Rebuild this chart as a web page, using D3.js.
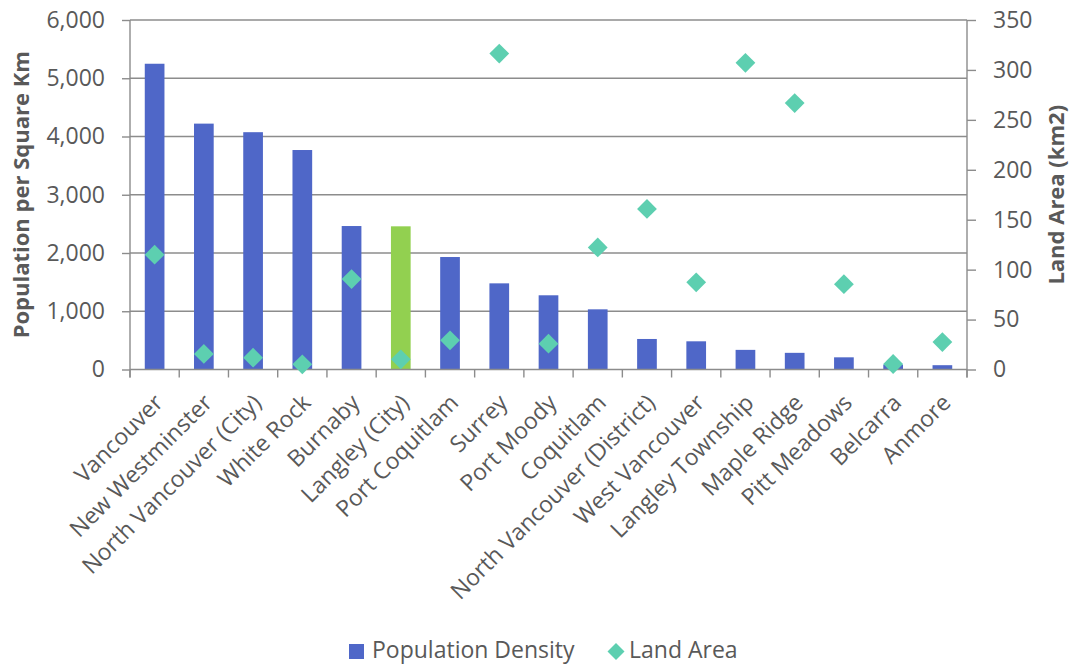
<!DOCTYPE html>
<html>
<head>
<meta charset="utf-8">
<script src="https://cdn.jsdelivr.net/npm/d3@7"></script>
<style>
  html, body { margin: 0; padding: 0; background: #fff; }
  svg { display: block; font-family: "Open Sans", sans-serif; }
</style>
</head>
<body>
<svg id="chart" width="1072" height="664"></svg>
<script>
// Metro Vancouver municipalities: population density and land area
const municipalities = [
  "Vancouver", "New Westminster", "North Vancouver (City)", "White Rock", "Burnaby",
  "Langley (City)", "Port Coquitlam", "Surrey", "Port Moody", "Coquitlam",
  "North Vancouver (District)", "West Vancouver", "Langley Township", "Maple Ridge",
  "Pitt Meadows", "Belcarra", "Anmore"
];
const densityValues = [5249, 4221, 4074, 3768, 2463, 2458, 1931, 1479, 1274, 1033,
  524, 484, 337, 286, 209, 85, 74];
const landAreaValues = [115.0, 15.6, 11.8, 5.2, 90.6, 10.2, 29.2, 316.4, 25.9, 122.2,
  160.8, 87.3, 307.1, 266.8, 85.4, 5.5, 27.5];
const highlighted = ["Langley (City)"];
const densityTicks = [0, 1000, 2000, 3000, 4000, 5000, 6000];
const areaTicks = [0, 50, 100, 150, 200, 250, 300, 350];

const svg = d3.select("#chart");
const plotLeft = 130, plotRight = 967, plotTop = 20, plotBottom = 369.5;
const textColor = "#595959", gridColor = "#8c8c8c";
const barColor = "#4f67c8", highlightColor = "#92d050", diamondColor = "#5dcfb0";
const labelSize = "23px";

const x = d3.scaleBand().domain(municipalities).range([plotLeft, plotRight])
  .paddingInner(0.6).paddingOuter(0.3);
const yLeft = d3.scaleLinear().domain([0, 6000]).range([plotBottom, plotTop]);
const yRight = d3.scaleLinear().domain([0, 350]).range([plotBottom, plotTop]);

// horizontal gridlines
svg.append("g").selectAll("line").data(densityTicks.slice(1)).join("line")
  .attr("x1", plotLeft).attr("x2", plotRight)
  .attr("y1", d => yLeft(d)).attr("y2", d => yLeft(d))
  .attr("stroke", gridColor).attr("stroke-width", 1.4);

// bars
svg.append("g").selectAll("rect").data(municipalities).join("rect")
  .attr("x", d => x(d))
  .attr("width", x.bandwidth())
  .attr("y", (d, i) => yLeft(densityValues[i]))
  .attr("height", (d, i) => plotBottom - yLeft(densityValues[i]))
  .attr("fill", d => highlighted.includes(d) ? highlightColor : barColor);

// left and right value axes
const axL = svg.append("g").attr("transform", `translate(${plotLeft},0)`)
  .call(d3.axisLeft(yLeft).tickValues(densityTicks).tickSize(8).tickPadding(17)
    .tickFormat(d3.format(",")));
const axR = svg.append("g").attr("transform", `translate(${plotRight},0)`)
  .call(d3.axisRight(yRight).tickValues(areaTicks).tickSize(9).tickPadding(17));

// category axis with ticks on band boundaries
const boundaries = municipalities.map((d, i) => plotLeft + i * x.step()).concat([plotRight]);
const axB = svg.append("g");
axB.append("line").attr("x1", plotLeft).attr("x2", plotRight)
  .attr("y1", plotBottom).attr("y2", plotBottom)
  .attr("stroke", gridColor).attr("stroke-width", 1.4);
axB.selectAll("line.tk").data(boundaries).join("line").attr("class", "tk")
  .attr("x1", d => d).attr("x2", d => d).attr("y1", plotBottom).attr("y2", plotBottom + 8)
  .attr("stroke", gridColor).attr("stroke-width", 1.4);

[axL, axR].forEach(g => {
  g.select(".domain").attr("stroke", gridColor).attr("stroke-width", 1.4)
    .attr("d", `M0,${plotTop}V${plotBottom + 8}`);
  g.selectAll(".tick line").attr("stroke", gridColor).attr("stroke-width", 1.4);
  g.selectAll(".tick text").attr("fill", textColor).style("font-size", labelSize)
    .style("font-family", "'Open Sans', sans-serif");
});

// category labels, rotated 45 degrees and ending under each bar
svg.append("g").selectAll("text").data(municipalities).join("text")
  .attr("transform", d => `translate(${x(d) + x.bandwidth() / 2 + 4},${plotBottom + 29}) rotate(-45)`)
  .attr("text-anchor", "end").attr("dy", "0.35em")
  .attr("fill", textColor).style("font-size", labelSize)
  .text(d => d);

// land area diamonds
const diamond = d3.symbol(d3.symbolSquare, 14 * 14);
svg.append("g").selectAll("path").data(municipalities).join("path")
  .attr("transform", (d, i) => `translate(${x(d) + x.bandwidth() / 2},${yRight(landAreaValues[i])}) rotate(45)`)
  .attr("d", diamond)
  .attr("fill", diamondColor);

// axis titles
svg.append("text")
  .attr("transform", `translate(28.5,${(plotTop + plotBottom) / 2}) rotate(-90)`)
  .attr("text-anchor", "middle").attr("fill", textColor)
  .style("font-size", "22px").style("font-weight", "bold")
  .text("Population per Square Km");
svg.append("text")
  .attr("transform", `translate(1064,${(plotTop + plotBottom) / 2}) rotate(-90)`)
  .attr("text-anchor", "middle").attr("fill", textColor)
  .style("font-size", "22px").style("font-weight", "bold")
  .text("Land Area (km2)");

// legend
const legend = svg.append("g");
legend.append("rect").attr("x", 349).attr("y", 644).attr("width", 15).attr("height", 15)
  .attr("fill", barColor);
legend.append("text").attr("x", 372).attr("y", 658).attr("fill", textColor)
  .style("font-size", labelSize).text("Population Density");
legend.append("path").attr("transform", "translate(616,651.5) rotate(45)")
  .attr("d", d3.symbol(d3.symbolSquare, 12 * 12)).attr("fill", diamondColor);
legend.append("text").attr("x", 629).attr("y", 658).attr("fill", textColor)
  .style("font-size", labelSize).text("Land Area");
</script>
</body>
</html>
